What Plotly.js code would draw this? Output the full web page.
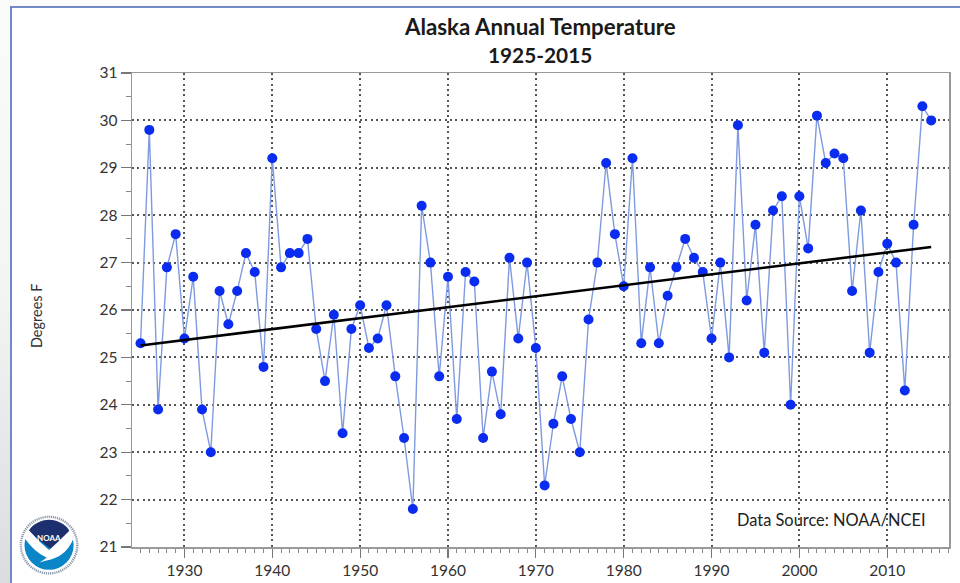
<!DOCTYPE html>
<html>
<head>
<meta charset="utf-8">
<script src="https://cdn.plot.ly/plotly-3.0.1.min.js"></script>
<style>
html,body{margin:0;padding:0;width:960px;height:583px;overflow:hidden;background:linear-gradient(180deg,#fbfbfb 0%,#f4f4f4 50%,#dcdce0 100%);}
#frame{position:absolute;left:10px;top:6px;width:960px;height:600px;background:#fff;border:2px solid #7189c6;box-sizing:border-box;}
#chart{position:absolute;left:0;top:0;width:960px;height:583px;}
</style>
</head>
<body>
<div id="frame"></div>
<div id="chart"></div>
<script>
const years = [1925,1926,1927,1928,1929,1930,1931,1932,1933,1934,1935,1936,1937,1938,1939,1940,1941,1942,1943,1944,1945,1946,1947,1948,1949,1950,1951,1952,1953,1954,1955,1956,1957,1958,1959,1960,1961,1962,1963,1964,1965,1966,1967,1968,1969,1970,1971,1972,1973,1974,1975,1976,1977,1978,1979,1980,1981,1982,1983,1984,1985,1986,1987,1988,1989,1990,1991,1992,1993,1994,1995,1996,1997,1998,1999,2000,2001,2002,2003,2004,2005,2006,2007,2008,2009,2010,2011,2012,2013,2014,2015];
const temps = [25.3,29.8,23.9,26.9,27.6,25.4,26.7,23.9,23.0,26.4,25.7,26.4,27.2,26.8,24.8,29.2,26.9,27.2,27.2,27.5,25.6,24.5,25.9,23.4,25.6,26.1,25.2,25.4,26.1,24.6,23.3,21.8,28.2,27.0,24.6,26.7,23.7,26.8,26.6,23.3,24.7,23.8,27.1,25.4,27.0,25.2,22.3,23.6,24.6,23.7,23.0,25.8,27.0,29.1,27.6,26.5,29.2,25.3,26.9,25.3,26.3,26.9,27.5,27.1,26.8,25.4,27.0,25.0,29.9,26.2,27.8,25.1,28.1,28.4,24.0,28.4,27.3,30.1,29.1,29.3,29.2,26.4,28.1,25.1,26.8,27.4,27.0,24.3,27.8,30.3,30.0];
const trendYears = [1925,2015];
const trendTemps = [25.25,27.33];
const xTicks = [1930,1940,1950,1960,1970,1980,1990,2000,2010];
const yTicks = [21,22,23,24,25,26,27,28,29,30,31];

const logo = '<svg xmlns="http://www.w3.org/2000/svg" viewBox="0 0 100 100">'
 + '<circle cx="50" cy="50" r="47" fill="#fff" stroke="#8a97a8" stroke-width="4" stroke-dasharray="2 1.5"/>'
 + '<circle cx="50" cy="50" r="41" fill="#0a86c8"/>'
 + '<path d="M16 26 A41 41 0 0 1 84 26 Q72 42 58 60 Q38 46 16 26Z" fill="#1c2f6e"/>'
 + '<path d="M9 38 Q11 30 16 25 Q32 44 50 58 Q60 50 85 25 Q90 31 91 38 Q84 56 70 66 Q60 73 44 76 L34 79 Q42 74 46 71 Q24 60 9 38Z" fill="#fff"/>'
 + '</svg>';

const data = [
  {x: years, y: temps, type: 'scatter', mode: 'lines+markers',
   line: {color: '#7f9ae0', width: 1.4},
   marker: {color: '#0a2cf0', size: 10}, hoverinfo: 'x+y', showlegend: false},
  {x: trendYears, y: trendTemps, type: 'scatter', mode: 'lines',
   line: {color: '#000', width: 2.6}, hoverinfo: 'skip', showlegend: false}
];

const tickFont = {family: 'Lato, "Open Sans", sans-serif', size: 15.5, color: '#333'};
const gridDash = '2px,3.3px';
const layout = {
  width: 960, height: 583,
  margin: {l: 132, r: 10.5, t: 73, b: 36},
  paper_bgcolor: 'rgba(0,0,0,0)',
  plot_bgcolor: '#fff',
  showlegend: false,
  xaxis: {
    range: [1924.03, 2017.03], tickmode: 'array', tickvals: xTicks, ticktext: xTicks.map(String),
    ticks: 'outside', ticklen: 9, tickwidth: 1.2, tickcolor: '#777',
    minor: {dtick: 1, tick0: 1930, ticks: 'outside', ticklen: 4, tickwidth: 1, tickcolor: '#888', showgrid: false},
    showgrid: true, gridcolor: '#555', griddash: gridDash, gridwidth: 2,
    showline: true, linecolor: '#999', linewidth: 1.5, mirror: true,
    zeroline: false, tickfont: tickFont
  },
  yaxis: {
    range: [21, 31], tickmode: 'array', tickvals: yTicks, ticktext: yTicks.map(String),
    ticks: 'outside', ticklen: 10, tickwidth: 1.2, tickcolor: '#777',
    minor: {dtick: 0.5, tick0: 21, ticks: 'outside', ticklen: 5, tickwidth: 1, tickcolor: '#888', showgrid: false},
    showgrid: true, gridcolor: '#555', griddash: gridDash, gridwidth: 2,
    showline: true, linecolor: '#999', linewidth: 1.5, mirror: true,
    zeroline: false, tickfont: tickFont
  },
  annotations: [
    {text: '<b>Alaska Annual Temperature</b>', xref: 'paper', yref: 'paper', x: 0.499, y: 1.098, xanchor: 'center', yanchor: 'middle', showarrow: false,
     font: {family: 'Lato, sans-serif', size: 22.3, color: '#1a1a1a'}},
    {text: '<b>1925-2015</b>', xref: 'paper', yref: 'paper', x: 0.499, y: 1.039, xanchor: 'center', yanchor: 'middle', showarrow: false,
     font: {family: 'Lato, sans-serif', size: 20.8, color: '#1a1a1a'}},
    {text: 'Degrees F', xref: 'paper', yref: 'paper', x: -0.117, y: 0.488, textangle: -90, xanchor: 'center', yanchor: 'middle', showarrow: false,
     font: {family: 'Lato, sans-serif', size: 14.5, color: '#333'}},
    {text: 'Data Source: NOAA/NCEI', xref: 'paper', yref: 'paper', x: 0.974, y: 0.057, xanchor: 'right', yanchor: 'middle', showarrow: false,
     font: {family: 'Lato, sans-serif', size: 16.4, color: '#222'}},
    {text: '<b>NOAA</b>', xref: 'paper', yref: 'paper', x: -0.1015, y: 0.02, xanchor: 'center', yanchor: 'middle', showarrow: false,
     font: {family: 'Lato, sans-serif', size: 8, color: '#fff'}}
  ],
  images: [{
    source: 'data:image/svg+xml;utf8,' + encodeURIComponent(logo),
    xref: 'paper', yref: 'paper', x: -0.1015, y: 0.004, sizex: 0.0734, sizey: 0.127,
    xanchor: 'center', yanchor: 'middle', layer: 'above', sizing: 'stretch'
  }]
};
Plotly.newPlot('chart', data, layout, {displayModeBar: false, staticPlot: true});
</script>
</body>
</html>
